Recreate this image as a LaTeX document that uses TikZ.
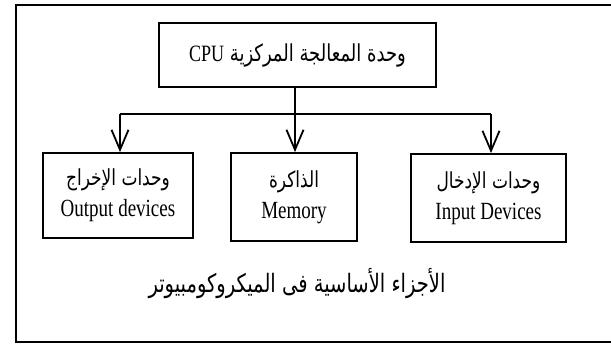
\documentclass[tikz,border=0pt]{standalone}
\usepackage{graphicx}
\usepackage{fontspec}
\setmainfont{Liberation Serif}
\newfontfamily\arabicfont[Script=Arabic]{DejaVu Sans}
\TeXXeTstate=1
\usetikzlibrary{arrows.meta}
\newcommand{\vst}[1]{\scalebox{1}[1.3]{#1}}
\newcommand{\ar}[1]{{\arabicfont\beginR #1\endR}}
\begin{document}
\begin{tikzpicture}[x=1pt,y=-1pt,
  box/.style={draw, line width=1.8pt, rectangle, inner sep=0pt, align=center,
    font=\fontsize{19}{31}\selectfont},
  conn/.style={line width=1.8pt},
  arr/.style={conn,-{Straight Barb[length=20pt,width=17pt,line width=1.8pt]}},
  frame/.style={line width=2.8pt}]
\path[use as bounding box] (0,0) rectangle (611,344);
\draw[frame] (611,5) -- (16,5) -- (16,342) -- (611,342);
\node[box, minimum width=277pt, minimum height=64pt, font=\fontsize{18}{20}\selectfont] (cpu) at (297.5,55)
  {\vst{\ar{وحدة المعالجة المركزية \beginL{\rmfamily CPU}\endL}}};
\node[box, minimum width=150pt, minimum height=85pt] (out) at (118,195.5)
  {\vst{\ar{\fontsize{17}{20}\selectfont وحدات الإخراج}}\\\vst{Output devices}};
\node[box, minimum width=126pt, minimum height=88pt] (mem) at (294,197)
  {\vst{\ar{\fontsize{17}{20}\selectfont الذاكرة}}\\\vst{Memory}};
\node[box, minimum width=155pt, minimum height=88pt] (inp) at (488.5,198)
  {\vst{\ar{\fontsize{17}{20}\selectfont وحدات الإدخال}}\\\vst{Input Devices}};
\node[font=\fontsize{19.5}{22}\selectfont] (cap) at (297,283)
  {\vst{\ar{الأجزاء الأساسية فى الميكروكومبيوتر}}};
\coordinate (bl) at (120,114);
\coordinate (bm) at (295,114);
\coordinate (br) at (491,114);
\draw[conn] (bm |- cpu.south) -- (bm);
\draw[conn] (bl) -- (br);
\draw[arr] (bl) -- (bl |- out.north);
\draw[arr] (bm) -- (bm |- mem.north);
\draw[arr] (br) -- (br |- inp.north);
\end{tikzpicture}
\end{document}
